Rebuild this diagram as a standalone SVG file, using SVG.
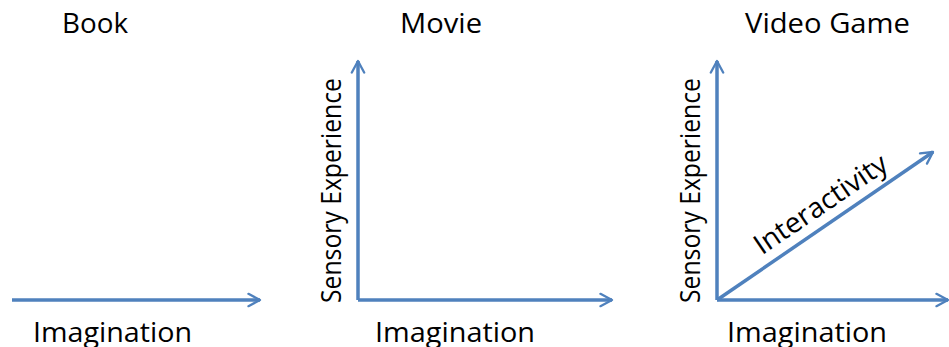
<svg xmlns="http://www.w3.org/2000/svg" width="949" height="347" viewBox="0 0 949 347">
<style>
.ax{stroke:#4F81BD;stroke-width:3.5;fill:none;marker-end:url(#ah)}
.t{font-family:"Open Sans","Liberation Sans",sans-serif;font-size:28px;fill:#000}
</style>
<defs>
<marker id="ah" viewBox="0 0 10 10" refX="8.5" refY="5" markerWidth="4.4" markerHeight="4.4" orient="auto" markerUnits="strokeWidth">
<path d="M1,1 L8.5,5 L1,9" fill="none" stroke="#4F81BD" stroke-width="1.5" stroke-linecap="round" stroke-linejoin="round"/>
</marker>
</defs>
<rect width="949" height="347" fill="#fff"/>
<g id="book">
<text class="t" x="62" y="33" textLength="66" lengthAdjust="spacingAndGlyphs">Book</text>
<text class="t" x="33" y="342" textLength="159" lengthAdjust="spacingAndGlyphs">Imagination</text>
</g>
<g id="movie">
<text class="t" x="400" y="33" textLength="82" lengthAdjust="spacingAndGlyphs">Movie</text>
<text class="t" x="375" y="342" textLength="160" lengthAdjust="spacingAndGlyphs">Imagination</text>
<text class="t" transform="translate(341,303) rotate(-90)" textLength="225" lengthAdjust="spacingAndGlyphs">Sensory Experience</text>
</g>
<g id="videogame">
<text class="t" x="745" y="33" textLength="165" lengthAdjust="spacingAndGlyphs">Video Game</text>
<text class="t" x="727" y="342" textLength="160" lengthAdjust="spacingAndGlyphs">Imagination</text>
<text class="t" transform="translate(700,303) rotate(-90)" textLength="225" lengthAdjust="spacingAndGlyphs">Sensory Experience</text>
<text class="t" transform="translate(826,212) rotate(-34.2)" text-anchor="middle" textLength="155" lengthAdjust="spacingAndGlyphs">Interactivity</text>
</g>
<g id="connectors">
<line class="ax" x1="12" y1="300" x2="260" y2="300"/>
<line class="ax" x1="358" y1="300" x2="612" y2="300"/>
<line class="ax" x1="358" y1="300" x2="358" y2="61"/>
<line class="ax" x1="717" y1="300" x2="948" y2="300"/>
<line class="ax" x1="717" y1="300" x2="717" y2="61"/>
<line class="ax" x1="717" y1="300" x2="933" y2="152"/>
</g>
</svg>
